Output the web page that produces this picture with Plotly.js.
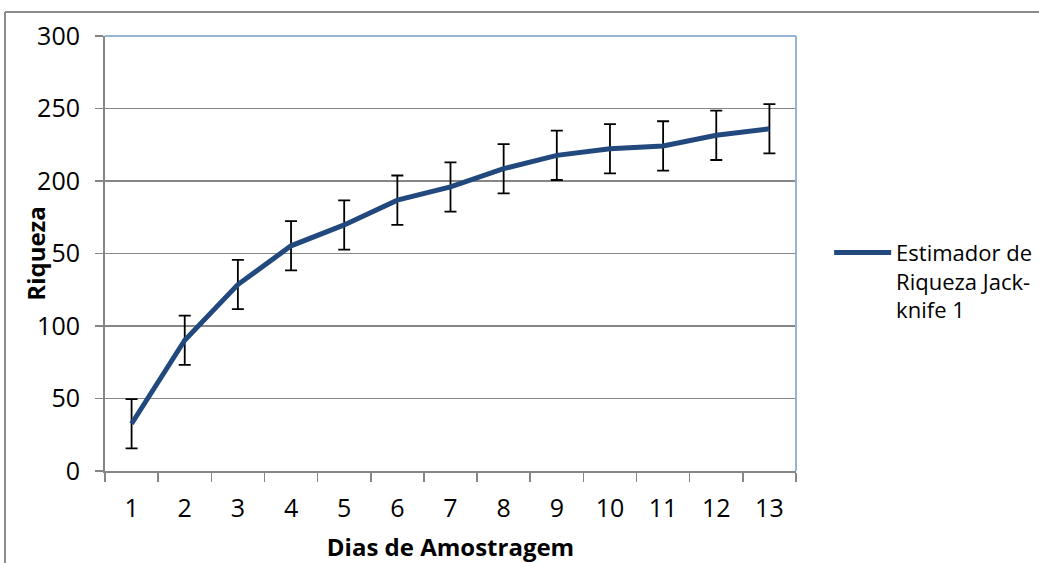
<!DOCTYPE html>
<html>
<head>
<meta charset="utf-8">
<script src="https://cdn.plot.ly/plotly-3.0.1.min.js"></script>
<style>
html,body{margin:0;padding:0;background:#fff;}
#chart{width:1039px;height:563px;}
</style>
</head>
<body>
<div id="chart"></div>
<script>
// Data
const dias = ['1','2','3','4','5','6','7','8','9','10','11','12','13'];
const riqueza = [32.6, 90.2, 128.6, 155.3, 169.7, 186.8, 195.9, 208.5, 217.7, 222.2, 224.2, 231.5, 236.0];
const erro = [17, 17, 17, 17, 17, 17, 17, 17, 17, 17, 17, 17, 17];
const yTicks = [0, 50, 100, 150, 200, 250, 300];
const seriesName = 'Estimador de<br>Riqueza Jack-<br>knife 1';

const font = '"Open Sans", "DejaVu Sans", sans-serif';
const gray = '#868686';

const trace = {
  type: 'scatter',
  mode: 'lines',
  x: dias,
  y: riqueza,
  name: seriesName,
  line: {color: '#22497d', width: 5},
  error_y: {type: 'data', array: erro, visible: true, color: '#000000', thickness: 1.8, width: 6},
  showlegend: true
};

const layout = {
  width: 1039,
  height: 563,
  margin: {l: 105, r: 243, t: 36, b: 92, autoexpand: false},
  paper_bgcolor: '#ffffff',
  plot_bgcolor: '#ffffff',
  font: {family: font, color: '#000000'},
  showlegend: true,
  legend: {
    xref: 'container',
    x: 0.798, xanchor: 'left',
    y: 0.55, yanchor: 'top',
    valign: 'top',
    font: {family: font, size: 22, color: '#000'},
    bgcolor: 'rgba(0,0,0,0)',
    itemwidth: 57,
    tracegroupgap: 0
  },
  xaxis: {
    type: 'category',
    range: [-0.5, 12.5],
    autorange: false,
    tickson: 'boundaries',
    ticks: 'outside',
    ticklen: 9,
    tickwidth: 1.5,
    tickcolor: gray,
    showline: true,
    linecolor: gray,
    linewidth: 2,
    showgrid: false,
    zeroline: false,
    tickfont: {family: font, size: 25, color: '#000'},
    ticklabelstandoff: 14,
    automargin: false,
    title: {text: '<b>Dias de Amostragem</b>', font: {family: font, size: 24, color: '#000'}, standoff: 17}
  },
  yaxis: {
    range: [0, 300],
    autorange: false,
    tickvals: yTicks,
    ticks: 'outside',
    ticklen: 8,
    tickwidth: 1.5,
    tickcolor: gray,
    showline: true,
    linecolor: gray,
    linewidth: 2,
    showgrid: true,
    gridcolor: gray,
    gridwidth: 1.5,
    zeroline: false,
    automargin: false,
    tickfont: {family: font, size: 25, color: '#000'},
    ticklabelstandoff: 10
  },
  annotations: [{
    text: '<b>Riqueza</b>',
    textangle: -90,
    xref: 'paper', yref: 'paper',
    x: -0.101, y: 0.50,
    xanchor: 'center', yanchor: 'middle',
    showarrow: false,
    bgcolor: '#ffffff',
    borderpad: 0,
    font: {family: font, size: 24, color: '#000'}
  }],
  shapes: [
    {type: 'line', xref: 'paper', yref: 'paper', x0: 0, x1: 1, y0: 1, y1: 1, line: {color: '#95b3d7', width: 2}},
    {type: 'line', xref: 'paper', yref: 'paper', x0: 1, x1: 1, y0: 0, y1: 1, line: {color: '#95b3d7', width: 2}},
    {type: 'line', xref: 'paper', yref: 'paper', x0: -0.1447, x1: 1.40, y0: 1.0552, y1: 1.0552, line: {color: '#8c8c8c', width: 2}},
    {type: 'line', xref: 'paper', yref: 'paper', x0: -0.1447, x1: -0.1447, y0: 1.0552, y1: -0.25, line: {color: '#8c8c8c', width: 2}}
  ]
};

Plotly.newPlot('chart', [trace], layout, {displayModeBar: false, staticPlot: true});
</script>
</body>
</html>
